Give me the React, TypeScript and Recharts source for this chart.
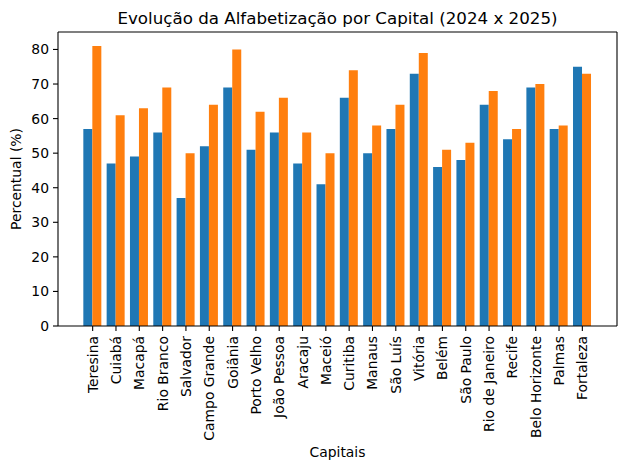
import React from 'react';
import { BarChart, Bar, XAxis, YAxis, Label } from 'recharts';

const capitals = ['Teresina', 'Cuiabá', 'Macapá', 'Rio Branco', 'Salvador', 'Campo Grande', 'Goiânia', 'Porto Velho', 'João Pessoa', 'Aracaju', 'Maceió', 'Curitiba', 'Manaus', 'São Luís', 'Vitória', 'Belém', 'São Paulo', 'Rio de Janeiro', 'Recife', 'Belo Horizonte', 'Palmas', 'Fortaleza'];
const values2024 = [57, 47, 49, 56, 37, 52, 69, 51, 56, 47, 41, 66, 50, 57, 73, 46, 48, 64, 54, 69, 57, 75];
const values2025 = [81, 61, 63, 69, 50, 64, 80, 62, 66, 56, 50, 74, 58, 64, 79, 51, 53, 68, 57, 70, 58, 73];
const yTicks = [0, 10, 20, 30, 40, 50, 60, 70, 80];

const data = capitals.map((c, i) => ({ name: c, y2024: values2024[i], y2025: values2025[i] }));

const FONT = 'DejaVu Sans, sans-serif';

const XTick = (props: any) => {
  const { x, y, payload } = props;
  return (
    <text
      x={x}
      y={y}
      transform={`rotate(-90, ${x}, ${y})`}
      textAnchor="end"
      dominantBaseline="central"
      fontFamily={FONT}
      fontSize={13.9}
      fill="#000"
    >
      {payload.value}
    </text>
  );
};

export default function App() {
  return (
    <div style={{ position: 'absolute', left: 0, top: 0, width: 630, height: 470, background: '#fff' }}>
      <svg style={{ position: 'absolute', left: 0, top: 0 }} width={630} height={40}>
        <text x={337.5} y={18} textAnchor="middle" dominantBaseline="central" fontFamily={FONT} fontSize={16.7} fill="#000">
          Evolução da Alfabetização por Capital (2024 x 2025)
        </text>
      </svg>
      <BarChart
        width={630}
        height={470}
        data={data}
        margin={{ top: 31, right: 12, bottom: 0, left: 0 }}
        barCategoryGap="10%"
        barGap={0}
        style={{ position: 'absolute', left: 0, top: 0 }}
      >
        <XAxis
          dataKey="name"
          xAxisId="top"
          orientation="top"
          height={1}
          tick={false}
          tickLine={false}
          stroke="#000"
          axisLine={{ stroke: '#000', strokeWidth: 1.1 }}
        />
        <YAxis
          yAxisId="right"
          orientation="right"
          width={1}
          tick={false}
          tickLine={false}
          stroke="#000"
          domain={[0, 85.05]}
          axisLine={{ stroke: '#000', strokeWidth: 1.1 }}
        />
        <XAxis
          dataKey="name"
          interval={0}
          height={144}
          padding={{ left: 23, right: 23 }}
          tick={<XTick />}
          tickSize={5}
          tickMargin={5}
          tickLine={{ stroke: '#000', strokeWidth: 1.1 }}
          axisLine={{ stroke: '#000', strokeWidth: 1.1 }}
        >
          <Label value="Capitais" position="insideBottom" offset={13} fontFamily={FONT} fontSize={13.9} fill="#000" />
        </XAxis>
        <YAxis
          width={58}
          domain={[0, 85.05]}
          ticks={yTicks}
          interval={0}
          tickSize={5}
          tickMargin={4}
          tick={{ fontFamily: FONT, fontSize: 13.9, fill: '#000' }}
          tickLine={{ stroke: '#000', strokeWidth: 1.1 }}
          axisLine={{ stroke: '#000', strokeWidth: 1.1 }}
        >
          <Label value="Percentual (%)" angle={-90} position="insideLeft" offset={16} style={{ textAnchor: 'middle' }} fontFamily={FONT} fontSize={13.9} fill="#000" />
        </YAxis>
        <Bar dataKey="y2024" fill="#1f77b4" isAnimationActive={false} />
        <Bar dataKey="y2025" fill="#ff7f0e" isAnimationActive={false} />
      </BarChart>
    </div>
  );
}
